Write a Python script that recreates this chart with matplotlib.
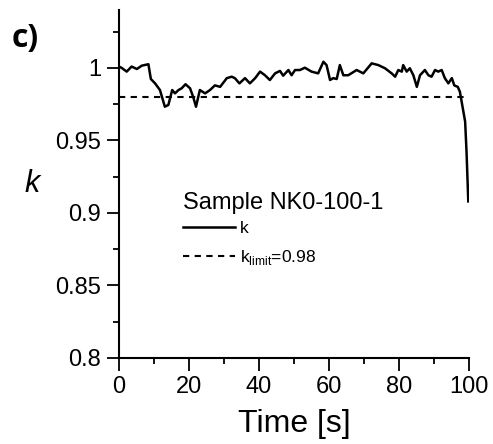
import matplotlib
matplotlib.use("Agg")
import matplotlib.pyplot as plt
from matplotlib.ticker import MultipleLocator

time_s = [0, 0.8, 2.2, 3.6, 5.1, 6.5, 8.4, 9.1, 10.3, 11.7, 13.1, 14.1, 15.2, 16, 17,
          17.9, 19, 20.3, 21.2, 22, 23.1, 24.6, 26, 27.4, 28.9, 30.8, 32.2, 33.1, 34.4,
          36, 37.4, 38.9, 40.3, 41.7, 43.1, 44.6, 46, 46.9, 48.4, 49.3, 50.3, 51.7, 53.1,
          55, 56.9, 58.4, 59.3, 60.3, 61.2, 62.2, 63.1, 64.1, 65.5, 67.9, 69.8, 72.2,
          74.1, 76, 77.9, 78.9, 79.8, 80.8, 81.2, 82.2, 83.1, 84.1, 85.1, 86, 87.4, 88.4,
          89.3, 90.3, 91.2, 92.2, 93.1, 94.1, 95.1, 95.8, 96.8, 97.4, 97.9, 98.9, 99.3,
          99.8]
k_values = [1.001, 1.000, 0.9975, 1.001, 0.9993, 1.0016, 1.0026, 0.9924, 0.9894, 0.9848,
            0.9733, 0.9745, 0.9848, 0.9825, 0.9848, 0.986, 0.9888, 0.986, 0.980, 0.9733,
            0.9848, 0.9825, 0.9848, 0.988, 0.987, 0.993, 0.994, 0.993, 0.9894, 0.993,
            0.9894, 0.993, 0.9975, 0.995, 0.9917, 0.9963, 0.998, 0.9947, 0.9986, 0.995,
            0.9986, 0.9986, 1.0002, 0.9975, 0.9963, 1.0043, 1.002, 0.9917, 0.993, 0.9924,
            1.002, 0.995, 0.995, 0.9986, 0.9963, 1.0032, 1.002, 0.9998, 0.9963, 0.994,
            0.9986, 0.9975, 1.002, 0.9975, 0.9998, 0.995, 0.987, 0.995, 0.9986, 0.995,
            0.994, 0.9986, 0.9975, 0.9986, 0.993, 0.9894, 0.993, 0.988, 0.987, 0.9836,
            0.9768, 0.963, 0.942, 0.908]
k_limit = 0.98
limit_time = [0, 100]

x_ticks = [0, 20, 40, 60, 80, 100]
y_ticks = [0.8, 0.85, 0.9, 0.95, 1.0]
y_tick_labels = ["0.8", "0.85", "0.9", "0.95", "1"]

plt.rcParams['font.family'] = ['Liberation Sans', 'DejaVu Sans']

fig = plt.figure(figsize=(4.93, 4.44), dpi=100)
ax = fig.add_axes([0.2414, 0.1937, 0.7099, 0.7838])

ax.plot(time_s, k_values, color='black', lw=1.8, label='k')
ax.plot(limit_time, [k_limit, k_limit], color='black', lw=1.5, dashes=(3, 2.6),
        label=r'k$_{\mathregular{limit}}$=0.98')

ax.set_xlim(0, 100)
ax.set_ylim(0.8, 1.04)
ax.set_xticks(x_ticks)
ax.set_yticks(y_ticks)
ax.set_yticklabels(y_tick_labels)
ax.xaxis.set_minor_locator(MultipleLocator(10))
ax.yaxis.set_minor_locator(MultipleLocator(0.025))

for s in ['top', 'right']:
    ax.spines[s].set_visible(False)
for s in ['left', 'bottom']:
    ax.spines[s].set_linewidth(1.5)

ax.tick_params(which='major', direction='out', length=9, width=1.3, labelsize=17, pad=4)
ax.tick_params(which='minor', direction='out', length=4.5, width=1.3)

ax.set_xlabel('Time [s]', fontsize=23, labelpad=8)
ax.set_ylabel('k', fontsize=22, style='italic', rotation=0, labelpad=0)
ax.yaxis.label.set_va('center')
ax.yaxis.label.set_ha('center')
ax.yaxis.set_label_coords(-0.247, 0.50)

leg = ax.legend(title='Sample NK0-100-1', title_fontsize=17, fontsize=12.5,
                frameon=False, loc='upper left', bbox_to_anchor=(0.183, 0.478),
                handlelength=3.0, handletextpad=0.3, labelspacing=0.7,
                borderaxespad=0, borderpad=0)
leg._legend_box.align = "left"
leg._legend_box.sep = 5.0

fig.text(0.024, 0.895, 'c)', fontsize=23, fontweight='bold', family=['Open Sans', 'DejaVu Sans'])

fig.savefig('out.png', dpi=100)
